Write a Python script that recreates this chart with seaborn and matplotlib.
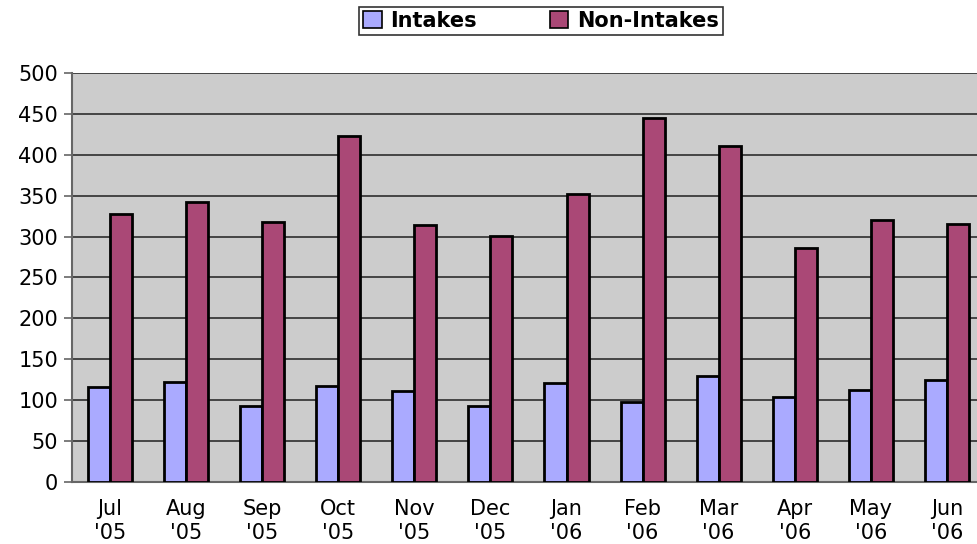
import matplotlib
matplotlib.use('Agg')
import matplotlib.pyplot as plt
import seaborn as sns
import pandas as pd
import numpy as np

months = ["Jul\n'05", "Aug\n'05", "Sep\n'05", "Oct\n'05", "Nov\n'05", "Dec\n'05",
          "Jan\n'06", "Feb\n'06", "Mar\n'06", "Apr\n'06", "May\n'06", "Jun\n'06"]
intakes = [116, 122, 93, 117, 111, 93, 121, 98, 129, 104, 112, 125]
non_intakes = [328, 342, 318, 423, 314, 301, 352, 445, 411, 286, 320, 315]
yticks = [0, 50, 100, 150, 200, 250, 300, 350, 400, 450, 500]

df = pd.DataFrame({
    'month': months * 2,
    'count': intakes + non_intakes,
    'series': ['Intakes'] * len(months) + ['Non-Intakes'] * len(months),
})

sns.set_style('white')
plt.rcParams['font.family'] = ['DejaVu Sans']
plt.rcParams['text.color'] = 'black'

fig = plt.figure(figsize=(9.78, 5.44), dpi=100)
ax = fig.add_axes([0.0736, 0.114, 0.9335, 0.752])
ax.set_facecolor('#CCCCCC')

sns.barplot(data=df, x='month', y='count', hue='series', ax=ax,
            palette=['#AAAAFF', '#AA4876'], width=0.58, dodge=True,
            edgecolor='black', linewidth=2, saturation=1, zorder=3)

ax.set_ylim(0, 500)
ax.set_xlim(-0.5, len(months) - 0.5)
ax.set_yticks(yticks)
ax.yaxis.grid(True, color='#444444', linewidth=1.4, zorder=0)
ax.set_axisbelow(True)
ax.set_xlabel('')
ax.set_ylabel('')

ax.set_xticks(range(len(months)))
ax.set_xticklabels(months, fontsize=15, linespacing=1.3)
ax.set_xticks(np.arange(-0.5, len(months), 1.0), minor=True)
ax.tick_params(axis='x', which='major', length=0, pad=12, labelcolor='black')
ax.tick_params(axis='x', which='minor', length=6, width=1.2, color='#666666', direction='out')
ax.tick_params(axis='y', labelsize=15, length=6, width=1.2, color='#666666', direction='out',
               left=True, pad=4, labelcolor='black')

for s in ['top', 'right']:
    ax.spines[s].set_visible(False)
for s in ['left', 'bottom']:
    ax.spines[s].set_color('#666666')
    ax.spines[s].set_linewidth(1.5)

ax.legend_.remove()
handles = [plt.Rectangle((0, 0), 1, 1, facecolor=c, edgecolor='black', linewidth=1.2)
           for c in ['#AAAAFF', '#AA4876']]
leg = fig.legend(handles, ['Intakes', 'Non-Intakes'], loc='center', ncol=2,
                 bbox_to_anchor=(0.553, 0.962), frameon=True, fancybox=False,
                 prop={'weight': 'bold', 'size': 15}, handlelength=0.9, handleheight=0.9,
                 handletextpad=0.4, columnspacing=3.5, borderpad=0.2, borderaxespad=0,
                 labelcolor='black')
leg.get_frame().set_edgecolor('black')
leg.get_frame().set_linewidth(1.2)

fig.savefig('out.png', dpi=100)
plt.close()
